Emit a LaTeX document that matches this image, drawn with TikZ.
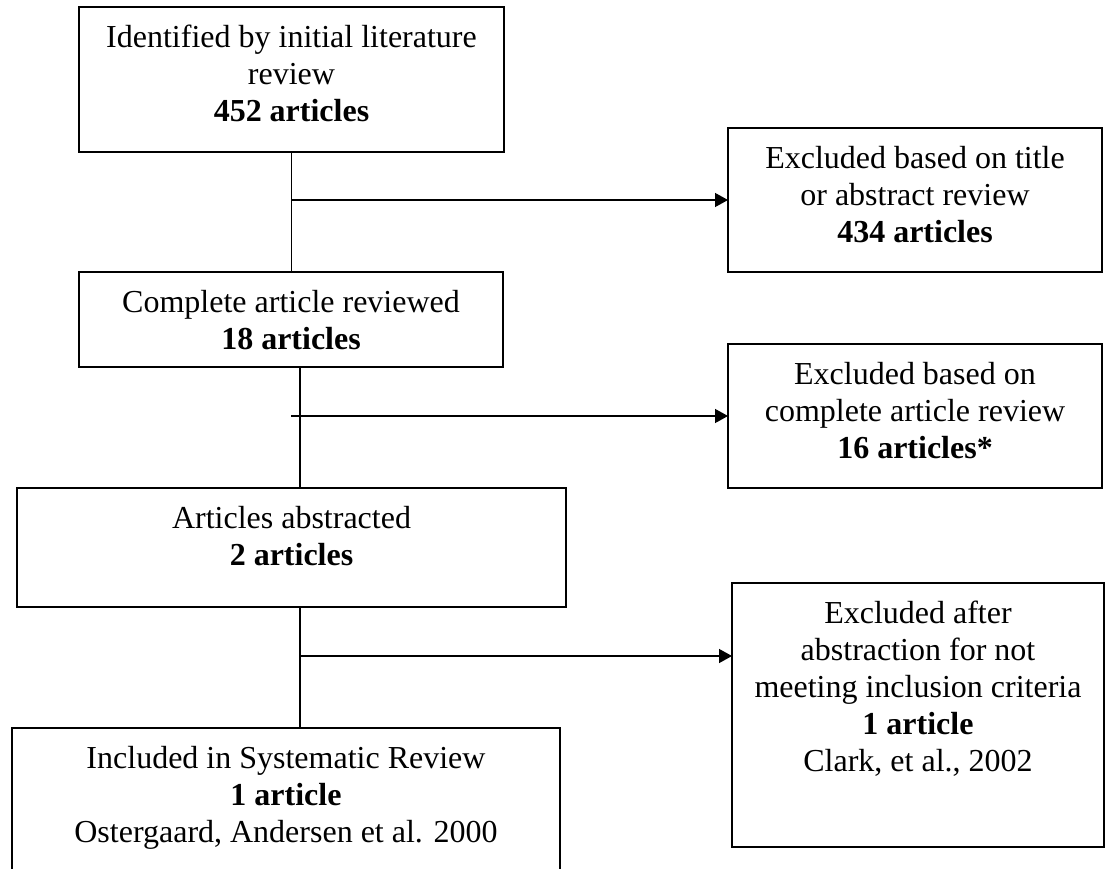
\documentclass[tikz,border=0pt]{standalone}
\usepackage{fontspec}
\setmainfont{Liberation Serif}
\usetikzlibrary{arrows.meta}
\begin{document}
\begin{tikzpicture}[x=1pt,y=-1pt,
  box/.style={draw=black, line width=1.4pt, inner sep=0pt, outer sep=0pt},
  lbl/.style={anchor=north, align=center, inner sep=0pt, font=\fontsize{32}{37}\selectfont},
  conn/.style={line width=1.4pt},
  arr/.style={line width=1.4pt, -{Triangle[length=13pt,width=14pt]}}]
\useasboundingbox (0,0) rectangle (1105,869);
\clip (0,0) rectangle (1105,869);
\fill[white] (0,0) rectangle (1105,869);
% boxes
\node[box, minimum width=425pt, minimum height=145pt] (B1) at (291.5,79.5) {};
\node[box, minimum width=374pt, minimum height=144pt] (B2) at (915,200) {};
\node[box, minimum width=424pt, minimum height=95pt]  (B3) at (291,319.5) {};
\node[box, minimum width=374pt, minimum height=144pt] (B4) at (915,416) {};
\node[box, minimum width=549pt, minimum height=119pt] (B5) at (291.5,547.5) {};
\node[box, minimum width=372pt, minimum height=264pt] (B6) at (918,715) {};
\node[box, minimum width=548pt, minimum height=192pt] (B7) at (286,824) {};
% texts
\node[lbl] (T1) at (291.5,25) {Identified by initial literature\\review\\\textbf{452 articles}};
\node[lbl] (T2) at (915,146) {Excluded based on title\\or abstract review\\\textbf{434 articles}};
\node[lbl] (T3) at (291,290) {Complete article reviewed\\\textbf{18 articles}};
\node[lbl] (T4) at (915,362) {Excluded based on\\complete article review\\\textbf{16 articles*}};
\node[lbl] (T5) at (291.5,506) {Articles abstracted\\\textbf{2 articles}};
\node[lbl] (T6) at (918,601) {Excluded after\\abstraction for not\\meeting inclusion criteria\\\textbf{1 article}\\Clark, et al., 2002};
\node[lbl] (T7) at (286,746) {Included in Systematic Review\\\textbf{1 article}\\Ostergaard, Andersen et al. 2000};
% connectors
\coordinate (j1) at (291.5,200);
\draw[conn] (B1.south) -- (B1.south |- B3.north);
\draw[arr] (j1) -- (j1 -| B2.west);
\coordinate (j2) at (300,416);
\coordinate (s2) at (291,416);
\draw[conn] (B3.south -| j2) -- (B5.north -| j2);
\draw[arr] (s2) -- (s2 -| B4.west);
\coordinate (j3) at (300,656);
\draw[conn] (B5.south -| j3) -- (B7.north -| j3);
\draw[arr] (j3) -- (j3 -| B6.west);
\end{tikzpicture}
\end{document}
